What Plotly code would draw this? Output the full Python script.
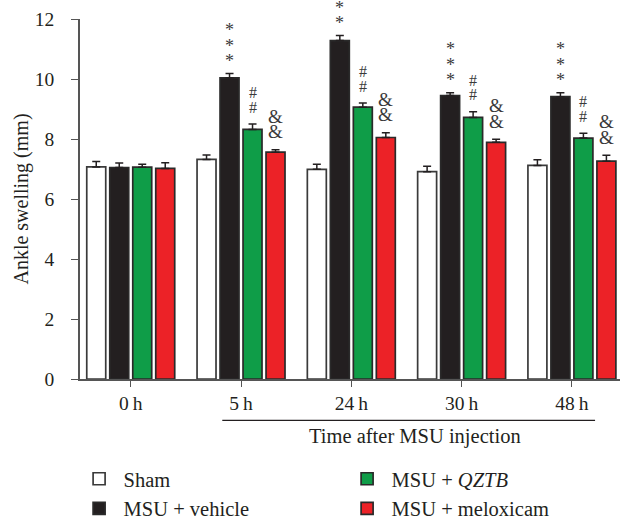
import plotly.graph_objects as go

categories = ["0\u2009h", "5\u2009h", "24\u2009h", "30\u2009h", "48\u2009h"]
series_names = ["Sham", "MSU + vehicle", "MSU + <i>QZTB</i>", "MSU + meloxicam"]
sham = [7.07, 7.32, 6.99, 6.91, 7.12]
sham_err = [0.18, 0.15, 0.17, 0.18, 0.19]
vehicle = [7.05, 10.04, 11.28, 9.45, 9.41]
vehicle_err = [0.15, 0.14, 0.17, 0.09, 0.13]
qztb = [7.06, 8.32, 9.06, 8.72, 8.03]
qztb_err = [0.10, 0.18, 0.14, 0.19, 0.16]
melox = [7.02, 7.56, 8.05, 7.89, 7.26]
melox_err = [0.19, 0.08, 0.16, 0.10, 0.20]
# significance marks per group (count of stacked symbols)
vehicle_stars = [0, 3, 2, 3, 3]
qztb_hash = [0, 2, 2, 2, 2]
melox_amp = [0, 2, 2, 2, 2]
y_ticks = [0, 2, 4, 6, 8, 10, 12]

FONT = "Liberation Serif"
DARK = "#231f20"
fills = ["#ffffff", "#231f20", "#0f9d48", "#ec2227"]
outlines = ["#3a3a3a", "#2a2a2a", "#2a2a2a", "#2a2a2a"]
ranks = [1, 3, 2, 4]
values = [sham, vehicle, qztb, melox]
errs = [sham_err, vehicle_err, qztb_err, melox_err]

fig = go.Figure()
for i in range(4):
    fig.add_trace(go.Bar(
        x=categories, y=values[i], name=series_names[i],
        marker=dict(color=fills[i], line=dict(color=outlines[i], width=1.7)),
        error_y=dict(type="data", symmetric=False, array=errs[i],
                     arrayminus=[0] * len(categories), color=DARK,
                     thickness=1.5, width=4),
        legendrank=ranks[i],
    ))

slot = 23  # px between neighbouring bars
marks = [(1, vehicle_stars, "*", 18, 12.5, 15.5),
         (2, qztb_hash, "#", 16, 17, 14.5),
         (3, melox_amp, "&amp;", 19, 18, 15.5)]
for si, counts, sym, fs, base, step in marks:
    for ci, cat in enumerate(categories):
        top = values[si][ci] + errs[si][ci]
        for k in range(counts[ci]):
            fig.add_annotation(
                x=cat, y=top, xref="x", yref="y", text=sym, showarrow=False,
                xshift=(si - 1.5) * slot, yshift=base + k * step,
                yanchor="middle", font=dict(family=FONT, size=fs, color="#3a3a3a"))

# bracket line under 5h..48h and axis caption
x0 = 1 - 0.17
x1 = len(categories) - 1 + 0.21
fig.add_shape(type="line", xref="x", yref="paper", x0=x0, x1=x1,
              y0=-0.115, y1=-0.115, line=dict(color=DARK, width=1.3))
fig.add_annotation(x=(x0 + x1) / 2 + 0.06, y=-0.16, xref="x", yref="paper",
                   text="Time after MSU injection", showarrow=False,
                   yanchor="middle", font=dict(family=FONT, size=20.5, color=DARK))

fig.update_layout(
    width=620, height=519,
    margin=dict(l=80, r=0, t=19, b=140, autoexpand=False),
    paper_bgcolor="white", plot_bgcolor="white",
    barmode="group", bargap=0.166, bargroupgap=0.175,
    font=dict(family=FONT, size=19, color=DARK),
    showlegend=True,
    legend=dict(orientation="h", x=-0.01, y=-0.222, xanchor="left", yanchor="top",
                entrywidth=214, entrywidthmode="pixels", itemwidth=39,
                font=dict(family=FONT, size=20.5, color=DARK),
                traceorder="normal"),
)
fig.update_xaxes(range=[-0.46, 4.436], showline=True, linecolor="#555555",
                 linewidth=1.5, ticks="outside", ticklen=6, tickcolor="#555555",
                 tickwidth=1.3, showgrid=False, zeroline=False,
                 tickfont=dict(family=FONT, size=19.5, color=DARK))
fig.update_yaxes(range=[0, 12], tickvals=y_ticks, showline=True, linecolor="#555555",
                 linewidth=1.5, ticks="outside", ticklen=7, tickcolor="#555555",
                 tickwidth=1.3, showgrid=False, zeroline=False, ticklabelstandoff=13,
                 tickfont=dict(family=FONT, size=19.5, color=DARK),
                 title=dict(text="Ankle swelling (mm)", standoff=1,
                            font=dict(family=FONT, size=20, color=DARK)))

fig.write_html("out.html", config={"displayModeBar": False},
               post_script="document.body.style.margin='0';")
